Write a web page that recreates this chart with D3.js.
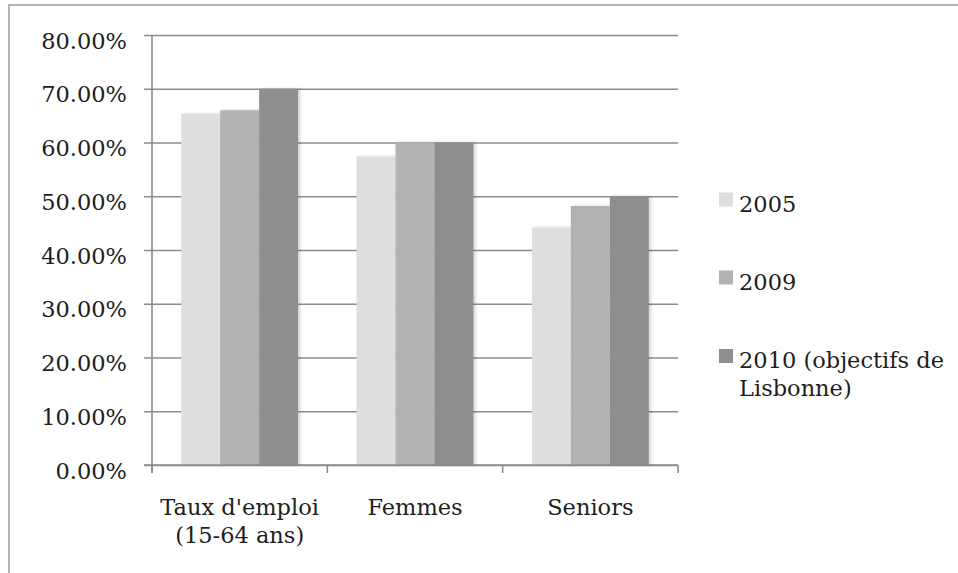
<!DOCTYPE html>
<html>
<head>
<meta charset="utf-8">
<script src="https://cdn.jsdelivr.net/npm/d3@7"></script>
<style>
  html, body { margin: 0; padding: 0; background: #fff; }
  svg { display: block; }
  text { font-family: "DejaVu Serif", serif; fill: #1e1e1e; }
</style>
</head>
<body>
<svg id="chart" width="958" height="573"></svg>
<script>
const categories = ["Taux d'emploi (15-64 ans)", "Femmes", "Seniors"];
const seriesNames = ["2005", "2009", "2010 (objectifs de Lisbonne)"];
const values2005 = [65.3, 57.4, 44.2];
const values2009 = [66.0, 60.0, 48.2];
const values2010 = [70.0, 60.0, 50.0];
const seriesColors = ["#dedede", "#b2b2b2", "#8e8e8e"];
const yTickValues = [0, 10, 20, 30, 40, 50, 60, 70, 80];

const seriesValues = [values2005, values2009, values2010];
const data = categories.map((c, i) => ({
  category: c,
  bars: seriesNames.map((s, j) => ({ series: s, value: seriesValues[j][i], color: seriesColors[j] }))
}));

const svg = d3.select("#chart");
const fontSize = 22.5;

// outer frame
svg.append("path")
  .attr("d", "M9,573 L9,5 L958,5")
  .attr("fill", "none")
  .attr("stroke", "#b3b3b3")
  .attr("stroke-width", 2);

// shadow filter
const defs = svg.append("defs");
const f = defs.append("filter").attr("id", "sh").attr("x", "-20%").attr("y", "-5%").attr("width", "150%").attr("height", "110%");
f.append("feDropShadow").attr("dx", 2).attr("dy", 0).attr("stdDeviation", 1.6)
  .attr("flood-color", "#000").attr("flood-opacity", 0.18);

const plotLeft = 152, plotRight = 678, plotTop = 35, plotBottom = 465;

const x0 = d3.scaleBand().domain(categories).range([plotLeft, plotRight]).paddingInner(0).paddingOuter(0);
const x1 = d3.scaleBand().domain(seriesNames).range([0, x0.bandwidth()]).paddingInner(0).paddingOuter(0.75);
const y = d3.scaleLinear().domain([0, 80]).range([plotBottom, plotTop]);

const gridColor = "#8c8c8c";

// gridlines + y ticks (via axis)
const yAxis = d3.axisLeft(y).tickValues(yTickValues).tickSize(-(plotRight - plotLeft)).tickSizeOuter(0)
  .tickFormat(d => d3.format(".2f")(d) + "%");
const gy = svg.append("g").attr("transform", `translate(${plotLeft},0)`).call(yAxis);
gy.select(".domain").remove();
gy.selectAll(".tick line").attr("stroke", gridColor).attr("stroke-width", 1.6).attr("x1", -8);
gy.selectAll(".tick text")
  .attr("x", -25).attr("dy", null).attr("y", 13)
  .style("font-size", fontSize + "px")
  .style("font-family", "'DejaVu Serif', serif")
  .attr("fill", "#1e1e1e");

// bars
const groups = svg.append("g").selectAll("g").data(data).join("g")
  .attr("transform", d => `translate(${x0(d.category)},0)`);
groups.selectAll("rect").data(d => d.bars).join("rect")
  .attr("x", d => x1(d.series))
  .attr("width", x1.bandwidth())
  .attr("y", d => y(d.value))
  .attr("height", d => y(0) - y(d.value))
  .attr("fill", d => d.color)
  .attr("filter", "url(#sh)");

// y axis line
svg.append("line")
  .attr("x1", plotLeft).attr("x2", plotLeft).attr("y1", y(80)).attr("y2", y(0) + 8)
  .attr("stroke", gridColor).attr("stroke-width", 1.6);

// x axis
const xAxis = d3.axisBottom(x0).tickSize(0).tickSizeOuter(0).tickFormat("");
const gx = svg.append("g").attr("transform", `translate(0,${plotBottom})`).call(xAxis);
gx.select(".domain").attr("stroke", gridColor).attr("stroke-width", 1.6).attr("d", `M${plotLeft - 8},0H${plotRight}`);
gx.selectAll(".tick").remove();
const boundaries = categories.map(c => x0(c)).concat([plotRight]);
gx.selectAll("line.bt").data(boundaries).join("line").attr("class", "bt")
  .attr("x1", d => d).attr("x2", d => d).attr("y1", 0).attr("y2", 8)
  .attr("stroke", gridColor).attr("stroke-width", 1.6);

// category labels with wrap
function wrapLines(textSel, words, maxW) {
  const lines = [];
  let cur = [];
  const tmp = textSel.append("tspan");
  words.forEach(w => {
    const trial = cur.concat([w]).join(" ");
    tmp.text(trial);
    if (tmp.node().getComputedTextLength() > maxW && cur.length) {
      lines.push(cur.join(" "));
      cur = [w];
    } else {
      cur.push(w);
    }
  });
  if (cur.length) lines.push(cur.join(" "));
  tmp.remove();
  return lines;
}

const lineH = 28;
categories.forEach(c => {
  const t = svg.append("text")
    .attr("text-anchor", "middle")
    .style("font-size", fontSize + "px");
  const lines = wrapLines(t, c.split(" "), x0.step() - 8);
  lines.forEach((ln, i) => {
    t.append("tspan").attr("x", x0(c) + x0.bandwidth() / 2).attr("y", 515 + i * lineH).text(ln);
  });
});

// legend
const legendX = 719, legendBaselines = [211.5, 289.5, 368];
seriesNames.forEach((s, i) => {
  const by = legendBaselines[i];
  svg.append("rect")
    .attr("x", legendX).attr("y", by - 19).attr("width", 14).attr("height", 14)
    .attr("fill", seriesColors[i]);
  const t = svg.append("text").style("font-size", fontSize + "px");
  const lines = wrapLines(t, s.split(" "), 958 - 739 - 4);
  lines.forEach((ln, k) => {
    t.append("tspan").attr("x", 739).attr("y", by + k * 28).text(ln);
  });
});
</script>
</body>
</html>
